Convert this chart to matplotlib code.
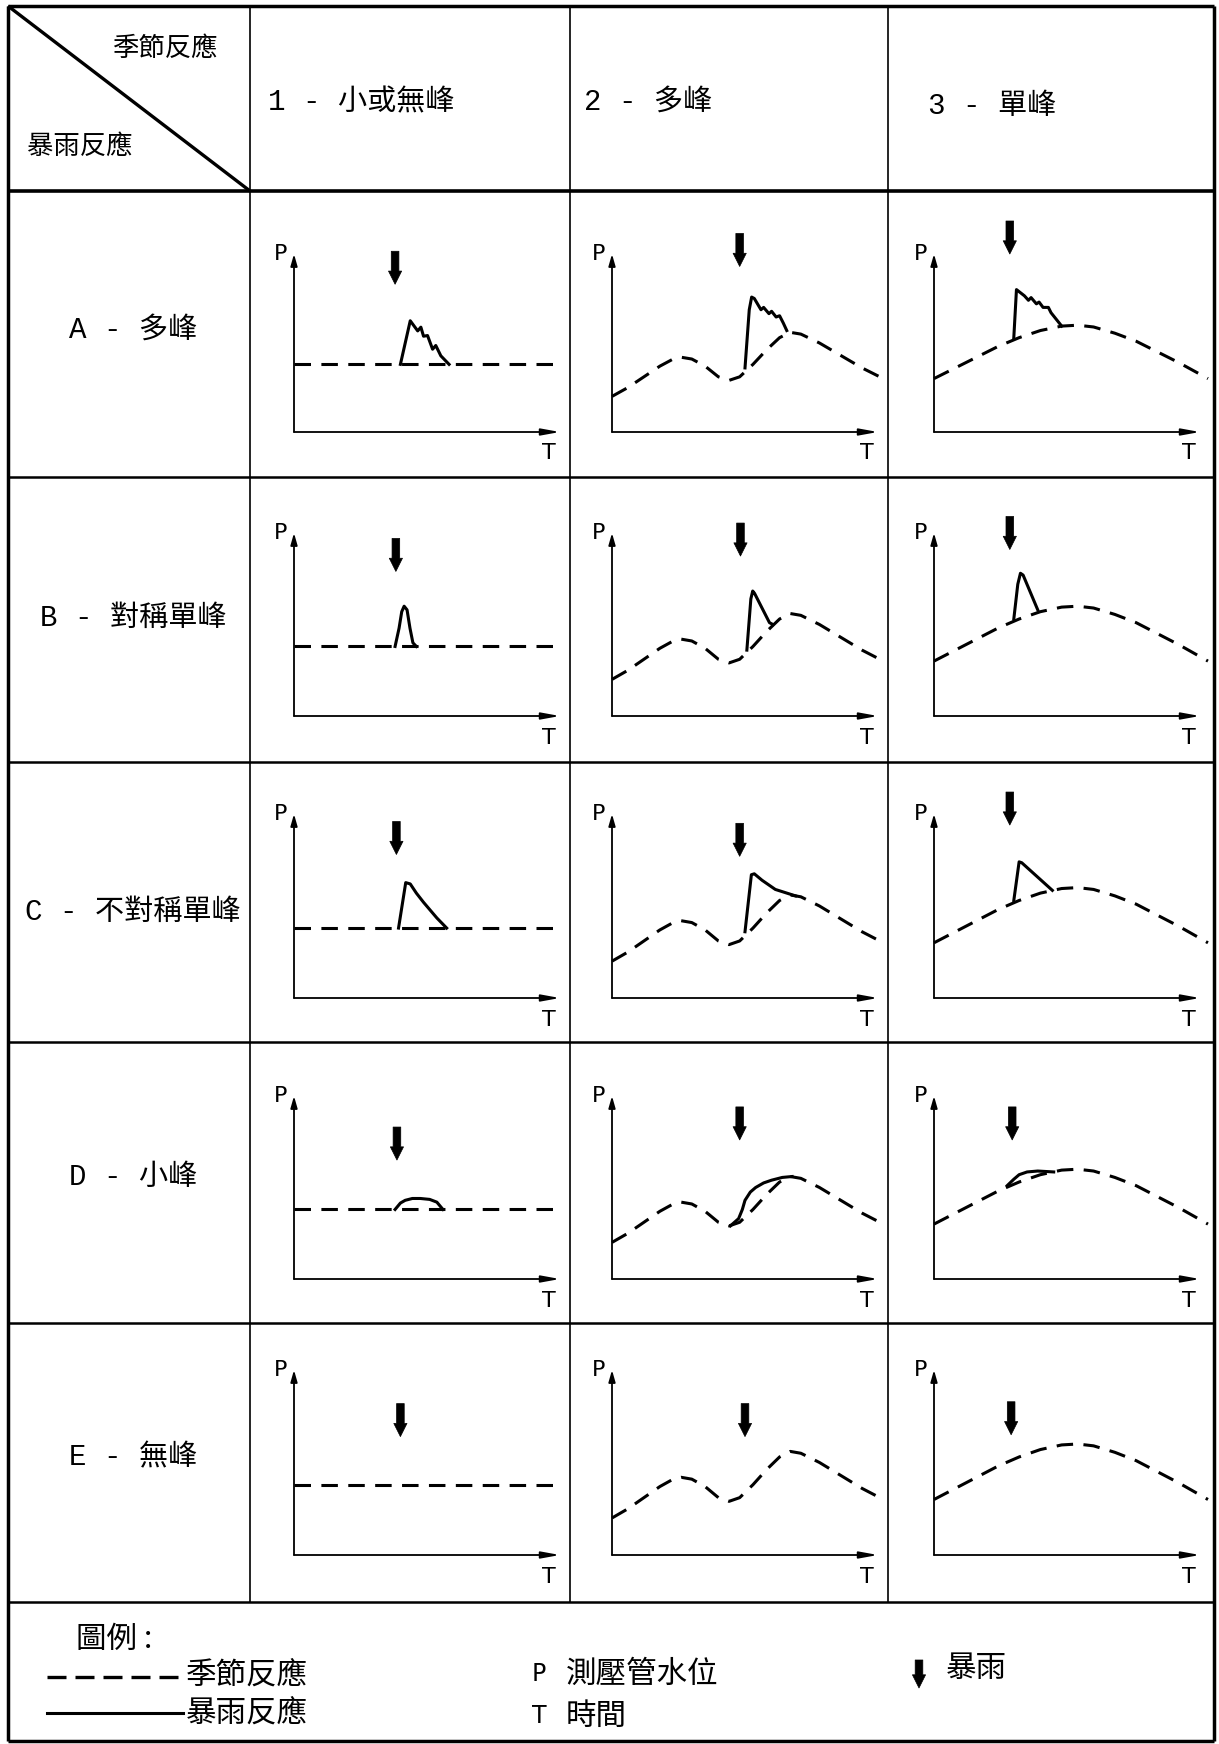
import matplotlib.pyplot as plt

plt.rcParams['font.family'] = ['Noto Sans CJK TC', 'DejaVu Sans']

# header / label texts
corner_top = '季節反應'
corner_bottom = '暴雨反應'
col_labels = ['1 - 小或無峰', '2 - 多峰', '3 - 單峰']
row_labels = ['A - 多峰', 'B - 對稱單峰', 'C - 不對稱單峰', 'D - 小峰', 'E - 無峰']

# seasonal response curves (T, P), each small plot scaled 0..1
flat_t = [0.0, 1.0]
flat_p = [0.38, 0.38]
multi_t = [0.00, 0.06, 0.12, 0.18, 0.23, 0.26, 0.30, 0.35, 0.40, 0.44, 0.48,
           0.53, 0.58, 0.63, 0.67, 0.71, 0.78, 0.86, 0.94, 1.02]
multi_p = [0.20, 0.25, 0.31, 0.37, 0.41, 0.42, 0.41, 0.37, 0.31, 0.29, 0.31,
           0.38, 0.46, 0.53, 0.56, 0.55, 0.50, 0.43, 0.36, 0.30]
single_t = [0.00, 0.08, 0.16, 0.24, 0.32, 0.40, 0.48, 0.54, 0.60, 0.68, 0.76,
            0.84, 0.92, 1.03]
single_p = [0.30, 0.36, 0.42, 0.48, 0.53, 0.57, 0.595, 0.60, 0.59, 0.555, 0.51,
            0.45, 0.39, 0.30]

# storm responses, one per cell (row E has none)
a1_t = [0.40, 0.437, 0.465, 0.477, 0.487, 0.502, 0.521, 0.533, 0.552, 0.583]
a1_p = [0.38, 0.625, 0.568, 0.589, 0.538, 0.542, 0.465, 0.486, 0.428, 0.38]
a2_t = [0.50, 0.516, 0.525, 0.535, 0.56, 0.57, 0.59, 0.60, 0.617, 0.63, 0.644, 0.657]
a2_p = [0.36, 0.687, 0.758, 0.75, 0.687, 0.70, 0.665, 0.678, 0.646, 0.653, 0.612, 0.57]
a3_t = [0.30, 0.31, 0.34, 0.355, 0.365, 0.385, 0.395, 0.41, 0.43, 0.44, 0.48]
a3_p = [0.53, 0.80, 0.765, 0.74, 0.755, 0.72, 0.73, 0.70, 0.70, 0.67, 0.595]
b1_t = [0.380, 0.395, 0.405, 0.414, 0.425, 0.436, 0.447, 0.460]
b1_p = [0.38, 0.48, 0.57, 0.60, 0.58, 0.48, 0.40, 0.38]
b2_t = [0.507, 0.522, 0.529, 0.536, 0.592, 0.605]
b2_p = [0.36, 0.64, 0.683, 0.67, 0.51, 0.50]
b3_t = [0.30, 0.315, 0.325, 0.335, 0.39]
b3_p = [0.53, 0.72, 0.78, 0.77, 0.58]
c1_t = [0.393, 0.42, 0.437, 0.46, 0.487, 0.537, 0.574]
c1_p = [0.38, 0.627, 0.62, 0.57, 0.52, 0.435, 0.38]
c2_t = [0.50, 0.524, 0.535, 0.564, 0.614, 0.69]
c2_p = [0.36, 0.67, 0.675, 0.64, 0.59, 0.555]
c3_t = [0.30, 0.32, 0.33, 0.445]
c3_p = [0.53, 0.74, 0.735, 0.585]
d1_t = [0.38, 0.40, 0.418, 0.445, 0.475, 0.51, 0.537, 0.56]
d1_p = [0.38, 0.415, 0.43, 0.44, 0.44, 0.435, 0.42, 0.38]
d2_t = [0.445, 0.476, 0.49, 0.50, 0.52, 0.54, 0.57, 0.60, 0.64, 0.677]
d2_p = [0.29, 0.33, 0.38, 0.43, 0.475, 0.50, 0.525, 0.54, 0.555, 0.56]
d3_t = [0.275, 0.30, 0.32, 0.35, 0.39, 0.45]
d3_p = [0.51, 0.545, 0.57, 0.585, 0.59, 0.585]

# rainstorm arrows: time and level of the arrow tip
rain_t = [[0.38, 0.48, 0.285], [0.383, 0.483, 0.285], [0.385, 0.48, 0.285],
          [0.387, 0.48, 0.294], [0.40, 0.50, 0.29]]
rain_tip = [[0.83, 0.93, 1.00], [0.79, 0.874, 0.91], [0.78, 0.77, 0.94],
            [0.65, 0.76, 0.76], [0.64, 0.64, 0.65]]

seasonal = [(flat_t, flat_p), (multi_t, multi_p), (single_t, single_p)]
storms = [
    [(a1_t, a1_p), (a2_t, a2_p), (a3_t, a3_p)],
    [(b1_t, b1_p), (b2_t, b2_p), (b3_t, b3_p)],
    [(c1_t, c1_p), (c2_t, c2_p), (c3_t, c3_p)],
    [(d1_t, d1_p), (d2_t, d2_p), (d3_t, d3_p)],
    [None, None, None],
]

W, H = 1219, 1744
fig = plt.figure(figsize=(W / 100, H / 100), dpi=100)
base = fig.add_axes([0, 0, 1, 1])
base.set_xlim(0, W)
base.set_ylim(H, 0)
base.axis('off')

# table frame
col_x = [8, 250, 570, 888, 1214]
row_y = [6, 191, 477, 762, 1042, 1323, 1602]
bottom = 1741
k = dict(color='black', solid_capstyle='butt')
base.plot([col_x[0], col_x[-1]], [row_y[0], row_y[0]], lw=2.5, **k)
base.plot([col_x[0], col_x[-1]], [bottom, bottom], lw=2.5, **k)
base.plot([col_x[0], col_x[0]], [row_y[0], bottom], lw=2.5, **k)
base.plot([col_x[-1], col_x[-1]], [row_y[0], bottom], lw=2.5, **k)
base.plot([col_x[0], col_x[-1]], [row_y[1], row_y[1]], lw=2.6, **k)
for y in row_y[2:]:
    base.plot([col_x[0], col_x[-1]], [y, y], lw=1.8, **k)
for x in col_x[1:-1]:
    base.plot([x, x], [row_y[0], row_y[-1]], lw=1.2, **k)
base.plot([col_x[0], col_x[1]], [row_y[0], row_y[1]], lw=2.4, **k)

base.text(165, 48, corner_top, fontsize=19, ha='center', va='center')
base.text(80, 146, corner_bottom, fontsize=19, ha='center', va='center')

lat = ['Liberation Mono', 'Noto Sans CJK TC']
for x, y, s in zip([268, 584, 928], [102, 102, 106], col_labels):
    base.text(x, y, s, fontsize=21, ha='left', va='center', family=lat)
for y, s in zip([330, 618, 912, 1177, 1457], row_labels):
    base.text(133, y, s, fontsize=21, ha='center', va='center', family=lat)

# small plots
ox = [294, 612, 934]
oy = [432, 716, 998, 1279, 1555]
pw = 266
ph = [178, 183, 184, 183, 185]

def rain_arrow(ax, x, tip, length, scale=10):
    ax.annotate('', xy=(x, tip), xytext=(x, tip + length),
                arrowprops=dict(arrowstyle='simple,head_length=0.95,head_width=0.95,tail_width=0.55',
                                fc='black', ec='black', lw=0.5, shrinkA=0, shrinkB=0,
                                mutation_scale=scale),
                annotation_clip=False)

for r in range(5):
    for c in range(3):
        ax = fig.add_axes([ox[c] / W, 1 - oy[r] / H, pw / W, ph[r] / H])
        ax.set_xlim(0, 1)
        ax.set_ylim(0, 1)
        ax.axis('off')
        ax.annotate('', xy=(0, 1.0), xytext=(0, 0),
                    arrowprops=dict(arrowstyle='-|>,head_length=0.7,head_width=0.2',
                                    color='black', lw=1.3, shrinkA=0, shrinkB=0,
                                    mutation_scale=10), annotation_clip=False)
        ax.annotate('', xy=(1.0, 0), xytext=(0, 0),
                    arrowprops=dict(arrowstyle='-|>,head_length=1.1,head_width=0.2',
                                    color='black', lw=1.3, shrinkA=0, shrinkB=0,
                                    mutation_scale=10), annotation_clip=False)
        ax.text(-0.025, 1.0, 'P', fontsize=16, ha='right', va='center', family='DejaVu Sans')
        ax.text(0.96, -0.12, 'T', fontsize=16, ha='center', va='center', family='DejaVu Sans')
        st, sp = seasonal[c]
        ax.plot(st, sp, color='black', lw=2.2, dashes=(5.4, 3.4), clip_on=False)
        if storms[r][c] is not None:
            tt, pp = storms[r][c]
            ax.plot(tt, pp, color='black', lw=2.2, clip_on=False, solid_joinstyle='round')
        rain_arrow(ax, rain_t[r][c], rain_tip[r][c], 33 / ph[r])

# legend
base.text(76, 1639, '圖例 :', fontsize=22, ha='left', va='center')
base.plot([47, 183], [1677, 1677], color='black', lw=2.4, dashes=(5.7, 2.7))
base.plot([47, 183], [1713, 1713], color='black', lw=2.2)
base.text(186, 1675, '季節反應', fontsize=22, ha='left', va='center')
base.text(186, 1713, '暴雨反應', fontsize=22, ha='left', va='center')
base.text(532, 1674, 'P', fontsize=17, ha='left', va='center', family='DejaVu Sans')
base.text(566, 1674, '測壓管水位', fontsize=22, ha='left', va='center')
base.text(532, 1716, 'T', fontsize=17, ha='left', va='center', family='DejaVu Sans')
base.text(566, 1716, '時間', fontsize=22, ha='left', va='center')
base.annotate('', xy=(919, 1688), xytext=(919, 1660),
              arrowprops=dict(arrowstyle='simple,head_length=0.95,head_width=0.95,tail_width=0.55',
                              fc='black', ec='black', lw=0.5, shrinkA=0, shrinkB=0,
                              mutation_scale=10))
base.text(946, 1668, '暴雨', fontsize=22, ha='left', va='center')

fig.savefig('out.png', dpi=100)
